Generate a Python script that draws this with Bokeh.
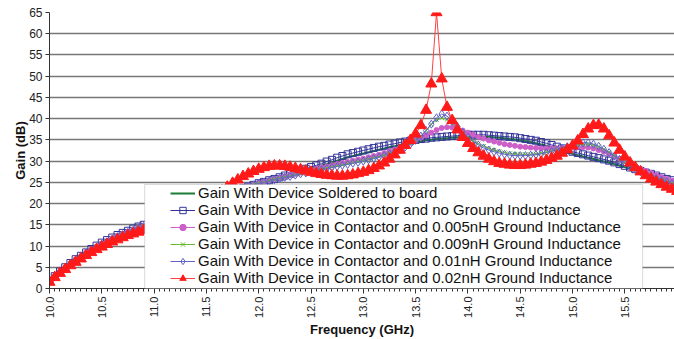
import math
from bokeh.plotting import figure
from bokeh.models import Legend, LegendItem, BoxAnnotation, SingleIntervalTicker, NumeralTickFormatter, ColumnDataSource
from bokeh.embed import file_html
from bokeh.resources import INLINE

# ---------------- data ----------------
freq = [round(10 + 0.05 * i, 2) for i in range(121)]  # GHz, 10.0 .. 16.0

soldered = [1.8, 2.9, 4.0, 5.0, 6.0, 6.9, 7.7, 8.5, 9.3, 10.0, 10.7, 11.3, 11.9, 12.5, 13.0, 13.5, 14.0, 14.5, 14.9, 15.4,
            15.8, 16.3, 16.7, 17.2, 17.6, 18.0, 18.5, 18.9, 19.3, 19.8, 20.2, 20.6, 21.1, 21.5, 22.0, 22.5, 23.0, 23.4, 23.8, 24.2,
            24.6, 24.9, 25.3, 25.6, 26.0, 26.3, 26.7, 27.1, 27.4, 27.8, 28.2, 28.5, 28.9, 29.3, 29.7, 30.1, 30.5, 30.9, 31.2, 31.5,
            31.8, 32.1, 32.4, 32.7, 33.0, 33.3, 33.5, 33.8, 34.0, 34.3, 34.5, 34.7, 34.9, 35.0, 35.2, 35.3, 35.4, 35.5, 35.6, 35.7,
            35.7, 35.8, 35.8, 35.7, 35.7, 35.6, 35.5, 35.4, 35.2, 35.1, 34.9, 34.7, 34.5, 34.2, 33.9, 33.6, 33.2, 32.8, 32.4, 32.0,
            31.7, 31.4, 31.1, 30.8, 30.5, 30.2, 29.9, 29.6, 29.3, 28.9, 28.6, 28.2, 27.8, 27.5, 27.1, 26.8, 26.4, 26.0, 25.7, 25.3,
            25.0]

no_ind = [1.8, 2.9, 4.0, 5.0, 6.0, 6.9, 7.7, 8.5, 9.3, 10.1, 10.8, 11.4, 12.0, 12.6, 13.1, 13.6, 14.1, 14.6, 15.0, 15.5,
          15.9, 16.4, 16.8, 17.3, 17.7, 18.1, 18.6, 19.0, 19.4, 19.9, 20.3, 20.7, 21.2, 21.6, 22.1, 22.6, 23.1, 23.6, 24.0, 24.4,
          24.8, 25.1, 25.5, 25.8, 26.2, 26.6, 27.0, 27.4, 27.8, 28.2, 28.6, 29.0, 29.4, 29.9, 30.3, 30.8, 31.2, 31.6, 31.9, 32.2,
          32.5, 32.8, 33.1, 33.4, 33.6, 33.9, 34.1, 34.4, 34.6, 34.8, 35.0, 35.2, 35.3, 35.5, 35.6, 35.7, 35.8, 35.9, 36.0, 36.1,
          36.2, 36.2, 36.2, 36.2, 36.1, 36.0, 35.9, 35.8, 35.7, 35.6, 35.4, 35.2, 35.0, 34.8, 34.5, 34.2, 33.8, 33.4, 33.0, 32.6,
          32.2, 31.9, 31.6, 31.3, 31.0, 30.7, 30.4, 30.1, 29.7, 29.3, 28.9, 28.5, 28.1, 27.7, 27.3, 27.0, 26.6, 26.2, 25.8, 25.5,
          25.1]

ind_0005 = [1.7, 2.8, 3.9, 4.9, 5.9, 6.8, 7.6, 8.4, 9.2, 9.9, 10.6, 11.2, 11.8, 12.4, 12.9, 13.4, 13.9, 14.4, 14.8, 15.3,
            15.7, 16.2, 16.6, 17.1, 17.5, 17.9, 18.4, 18.8, 19.3, 19.7, 20.2, 20.6, 21.1, 21.6, 22.1, 22.6, 23.1, 23.6, 24.1, 24.5,
            24.9, 25.2, 25.5, 25.8, 26.1, 26.4, 26.7, 27.0, 27.3, 27.6, 27.9, 28.2, 28.5, 28.7, 29.0, 29.3, 29.6, 29.8, 30.1, 30.4,
            30.6, 30.9, 31.2, 31.5, 31.9, 32.3, 32.7, 33.2, 33.7, 34.3, 34.9, 35.5, 36.1, 36.7, 37.3, 37.8, 38.0, 37.9, 37.6, 37.2,
            36.7, 36.2, 35.7, 35.3, 34.9, 34.6, 34.3, 34.0, 33.8, 33.6, 33.4, 33.3, 33.2, 33.1, 33.0, 33.0, 33.0, 33.0, 33.1, 33.2,
            33.2, 33.3, 33.3, 33.2, 33.0, 32.6, 32.2, 31.7, 31.2, 30.6, 30.0, 29.4, 28.8, 28.2, 27.7, 27.2, 26.7, 26.2, 25.8, 25.4,
            25.0]

ind_0009 = [1.7, 2.8, 3.9, 4.9, 5.9, 6.8, 7.6, 8.4, 9.1, 9.8, 10.5, 11.1, 11.7, 12.3, 12.8, 13.3, 13.8, 14.3, 14.7, 15.2,
            15.6, 16.1, 16.5, 17.0, 17.4, 17.9, 18.3, 18.8, 19.2, 19.7, 20.2, 20.7, 21.2, 21.7, 22.2, 22.7, 23.2, 23.7, 24.1, 24.5,
            24.8, 25.1, 25.4, 25.7, 26.0, 26.3, 26.5, 26.8, 27.1, 27.3, 27.6, 27.9, 28.1, 28.4, 28.6, 28.9, 29.1, 29.4, 29.6, 29.9,
            30.1, 30.4, 30.7, 31.0, 31.4, 31.8, 32.3, 32.8, 33.4, 34.1, 34.9, 35.9, 37.2, 38.6, 39.7, 40.2, 39.8, 38.9, 37.8, 36.7,
            35.7, 34.8, 34.1, 33.5, 33.0, 32.6, 32.3, 32.0, 31.8, 31.7, 31.6, 31.6, 31.6, 31.7, 31.9, 32.1, 32.4, 32.7, 33.0, 33.3,
            33.6, 33.8, 34.0, 34.0, 33.8, 33.4, 32.8, 32.1, 31.3, 30.5, 29.7, 28.9, 28.2, 27.6, 27.0, 26.5, 26.0, 25.6, 25.2, 24.8,
            24.5]

ind_001 = [1.7, 2.8, 3.8, 4.8, 5.8, 6.7, 7.5, 8.3, 9.0, 9.7, 10.4, 11.0, 11.6, 12.2, 12.7, 13.2, 13.7, 14.2, 14.6, 15.1,
           15.5, 16.0, 16.4, 16.9, 17.3, 17.8, 18.2, 18.7, 19.2, 19.7, 20.2, 20.7, 21.2, 21.7, 22.2, 22.7, 23.2, 23.7, 24.1, 24.4,
           24.7, 25.0, 25.3, 25.6, 25.9, 26.2, 26.4, 26.7, 27.0, 27.2, 27.5, 27.7, 28.0, 28.2, 28.5, 28.7, 29.0, 29.2, 29.5, 29.7,
           30.0, 30.3, 30.6, 30.9, 31.3, 31.7, 32.2, 32.7, 33.3, 34.0, 34.9, 35.9, 37.2, 38.7, 40.2, 41.1, 40.6, 39.4, 38.1, 36.8,
           35.6, 34.6, 33.8, 33.1, 32.6, 32.2, 31.9, 31.6, 31.4, 31.3, 31.3, 31.3, 31.4, 31.5, 31.7, 32.0, 32.3, 32.6, 33.0, 33.4,
           33.8, 34.1, 34.3, 34.3, 34.0, 33.5, 32.8, 32.0, 31.2, 30.4, 29.6, 28.8, 28.1, 27.5, 26.9, 26.4, 25.9, 25.5, 25.1, 24.7,
           24.4]

ind_002 = [1.5, 2.6, 3.6, 4.5, 5.4, 6.2, 7.0, 7.8, 8.5, 9.2, 9.8, 10.4, 11.0, 11.5, 12.0, 12.5, 12.9, 13.3, 13.7, 14.1,
           14.5, 15.0, 15.5, 16.0, 16.6, 17.2, 17.8, 18.5, 19.2, 19.9, 20.6, 21.4, 22.2, 23.0, 23.9, 24.8, 25.6, 26.4, 27.0, 27.6,
           28.1, 28.5, 28.8, 28.9, 28.9, 28.8, 28.6, 28.3, 28.0, 27.7, 27.4, 27.1, 26.9, 26.7, 26.6, 26.5, 26.5, 26.6, 26.8, 27.1,
           27.4, 27.8, 28.3, 28.9, 29.6, 30.5, 31.5, 32.6, 33.7, 34.9, 36.4, 38.4, 42.0, 48.2, 65.0, 49.4, 42.7, 39.6, 37.4, 35.6,
           34.2, 33.0, 32.0, 31.2, 30.5, 29.9, 29.5, 29.3, 29.1, 29.0, 29.0, 29.1, 29.3, 29.5, 29.8, 30.2, 30.7, 31.2, 31.9, 32.7,
           33.6, 34.8, 36.3, 37.6, 38.4, 38.5, 37.6, 36.0, 34.3, 32.6, 31.0, 29.6, 28.5, 27.5, 26.6, 25.8, 25.1, 24.5, 23.9, 23.4,
           22.9]

labels = [
    "Gain With Device Soldered to board",
    "Gain With Device in Contactor and no Ground Inductance",
    "Gain With Device in Contactor and 0.005nH Ground Inductance",
    "Gain With Device in Contactor and 0.009nH Ground Inductance",
    "Gain With Device in Contactor and 0.01nH Ground Inductance",
    "Gain With Device in Contactor and 0.02nH Ground Inductance",
]
y_ticks_step = 5
x_ticks_step = 0.5
legend_box = dict(left=10.91, right=15.67, bottom=0, top=24.5)

# ---------------- figure ----------------
FONT = "Liberation Sans"
p = figure(width=674, height=339, x_range=(10, 15.975), y_range=(0, 65),
           output_backend="svg", toolbar_location=None,
           min_border_left=49, min_border_right=0, min_border_top=12, min_border_bottom=51)
p.outline_line_color = None
p.background_fill_color = "white"

p.xgrid.visible = False
yt = SingleIntervalTicker(interval=y_ticks_step, num_minor_ticks=0)
p.yaxis.ticker = yt
p.ygrid.ticker = yt
p.ygrid.grid_line_color = "#777777"
p.ygrid.grid_line_width = 1.5

xt = SingleIntervalTicker(interval=x_ticks_step, num_minor_ticks=10)
p.xaxis.ticker = xt
p.xaxis.formatter = NumeralTickFormatter(format="0.0")
p.xaxis.major_label_orientation = math.pi / 2

for ax in (p.xaxis[0], p.yaxis[0]):
    ax.axis_line_color = "#333333"
    ax.major_tick_line_color = "#333333"
    ax.minor_tick_line_color = "#333333"
    ax.major_label_text_font = FONT
    ax.major_label_text_color = "#222222"
    ax.axis_label_text_font = FONT
    ax.axis_label_text_font_style = "bold"
    ax.axis_label_text_font_size = "13px"
    ax.axis_label_text_color = "#111111"
    ax.major_tick_in = 0

p.xaxis.major_label_text_font_size = "11px"
p.yaxis.major_label_text_font_size = "12px"
p.xaxis.major_tick_out = 5
p.xaxis.minor_tick_out = 3
p.xaxis.minor_tick_in = 0
p.xaxis.major_label_standoff = 3
p.xaxis.axis_label_standoff = 1
p.yaxis.major_tick_out = 4
p.yaxis.major_label_standoff = 3
p.yaxis.axis_label_standoff = -2
p.xaxis.axis_label = "Frequency (GHz)"
p.yaxis.axis_label = "Gain (dB)"

src = ColumnDataSource(dict(f=freq, s0=soldered, s1=no_ind, s2=ind_0005, s3=ind_0009, s4=ind_001, s5=ind_002))

items = []
# soldered: line only
r = p.line("f", "s0", source=src, line_color="#1a7a36", line_width=2)
items.append(LegendItem(label=labels[0], renderers=[r]))

styles = [
    ("s1", "#333399", "#333399", "square", 7, None),
    ("s2", "#CC5FC8", "#CC5FC8", "circle", 5, "#CC5FC8"),
    ("s3", "#66BB33", "#66BB33", "x", 6, None),
    ("s4", "#6262C8", "#6262C8", "diamond", 8, None),
    ("s5", "#FF4040", "#FF1A1A", "triangle", 11, "#FF1A1A"),
]
for k, (col, lcolor, color, marker, size, fill) in enumerate(styles):
    lr = p.line("f", col, source=src, line_color=lcolor, line_width=1)
    sr = p.scatter("f", col, source=src, marker=marker, size=size, line_color=color,
                   fill_color=fill, line_width=1)
    items.append(LegendItem(label=labels[k + 1], renderers=[lr, sr]))

box = BoxAnnotation(fill_color="white", fill_alpha=1.0, line_color="#808080", line_width=1, **legend_box)
p.add_layout(box)

legend = Legend(items=items, location=(119, 0), padding=2, spacing=0, margin=0,
                glyph_width=25, glyph_height=16, label_height=16, label_standoff=3,
                label_text_font=FONT, label_text_font_size="15px", label_text_color="#111111",
                border_line_alpha=0, background_fill_alpha=0)
p.add_layout(legend)

open("out.html", "w").write(file_html(p, INLINE))
